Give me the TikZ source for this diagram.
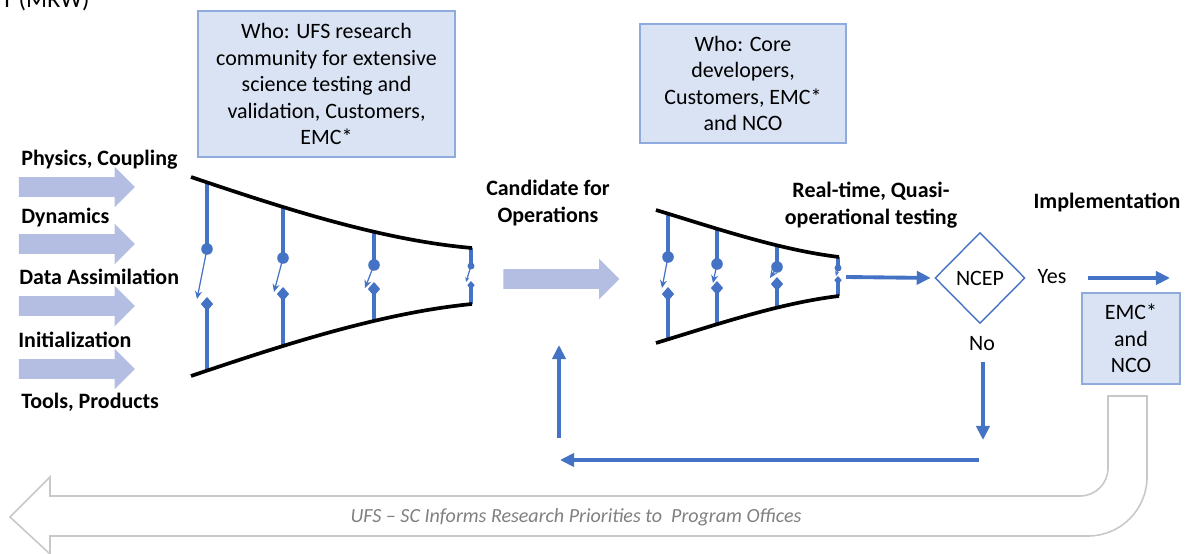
\documentclass[tikz,border=0pt]{standalone}
\usepackage{fontspec}
\setmainfont{Carlito}
\usepackage{tikz}
\usetikzlibrary{positioning}
\usetikzlibrary{arrows.meta}
\usetikzlibrary{shapes.geometric}
\usetikzlibrary{shapes.arrows}
\definecolor{ufsblue}{RGB}{68,114,196}
\definecolor{boxfill}{RGB}{218,227,243}
\definecolor{boxline}{RGB}{143,170,220}
\definecolor{fatfill}{RGB}{180,189,226}
\definecolor{loopgrey}{RGB}{200,200,200}
\definecolor{loopfont}{RGB}{128,128,128}
\newcommand{\switchbar}[8]{%
  \draw[switchline] (#1,#2) -- (#1,#3);
  \fill[ufsblue] (#1,#3) circle[radius=3.3pt*#8];
  \draw[ufsblue, line width=0.7pt, -{Stealth[length=4.5pt,width=4pt,scale=#8]}] (#1,#3) -- (#4,#5);
  \draw[switchline, -{Diamond[length=8pt,width=7pt,scale=#8]}] (#1,#7) -- (#1,#6);
}
\tikzset{
  lbl/.style={font=\fontsize{12.5}{15.1}\selectfont\bfseries, inner sep=0pt, align=center},
  whobox/.style={draw=boxline, fill=boxfill, line width=0.8pt, align=center, font=\fontsize{12.5}{15.1}\selectfont, inner sep=0pt},
  fatarrow/.style={single arrow, fill=fatfill, draw=none, inner xsep=0pt, inner ysep=0.19cm, single arrow head extend=0.21cm, minimum height=2.32cm},
  flow/.style={ufsblue, line width=2.2pt, -{Triangle[length=8pt,width=7.5pt]}},
  switchline/.style={ufsblue, line width=2.1pt},
  funnel/.style={black, line width=2.1pt},
}

\begin{document}
\begin{tikzpicture}[x=0.02cm, y=-0.02cm]
    \useasboundingbox (0,0) rectangle (1197,554);

    \node[anchor=base east, font=\fontsize{14}{16}\selectfont, inner sep=0pt] (mrw) at (90,8) {T (MRW)};

    % who boxes
    \node[whobox, minimum width=5.14cm, minimum height=2.92cm] (who_res) at (326.5,84) {Who: UFS research\\community for extensive\\science testing and\\validation, Customers,\\EMC*};
    \node[whobox, minimum width=4.12cm, minimum height=2.38cm] (who_ops) at (743,83.5) {Who: Core\\developers,\\Customers, EMC*\\and NCO};

    % inputs
    \node[lbl, anchor=west] (phys) at (21,160) {Physics, Coupling};
    \node[lbl, anchor=west] (dyn) at (21,218) {Dynamics};
    \node[lbl, anchor=west] (da) at (19,277) {Data Assimilation};
    \node[lbl, anchor=west] (init) at (18,340) {Initialization};
    \node[lbl, anchor=west] (tools) at (21,402) {Tools, Products};
    \node[fatarrow] (in_a) at (72,187) {};
    \node[fatarrow] (in_b) at (72,244) {};
    \node[fatarrow] (in_c) at (72,306) {};
    \node[fatarrow] (in_d) at (72,369) {};

    % research funnel
    \switchbar{207}{182}{249}{197}{299}{297}{372}{1}
    \switchbar{283}{207}{258}{274}{292}{287}{345}{1}
    \switchbar{374}{231}{265}{365}{288}{282}{322}{1}
    \switchbar{471}{248}{266}{466}{282}{281}{304}{0.6}
    \draw[funnel] (191,177) .. controls (280,207) and (380,240) .. (472,248);
    \draw[funnel] (191,376) .. controls (280,346) and (380,313) .. (472,304);

    \node[lbl] (cand) at (548,203) {Candidate for\\Operations};
    \node[fatarrow] (to_ops) at (556.5,279) {};

    % operational funnel
    \switchbar{668}{213}{257}{662}{288}{287}{339}{1}
    \switchbar{717}{229}{264}{713}{283}{281}{324}{1}
    \switchbar{777}{245}{267}{770}{278}{277}{307}{1}
    \switchbar{838}{257}{268}{836}{276}{276}{296}{0.6}
    \draw[funnel] (656,210) .. controls (715,228) and (780,250) .. (839,257);
    \draw[funnel] (656,343) .. controls (715,325) and (780,303) .. (839,296);

    \node[lbl] (rt) at (871,205) {Real-time, Quasi-\\operational testing};
    \node[lbl] (impl) at (1107,203) {Implementation};

    % decision
    \node[diamond, draw=ufsblue, line width=0.8pt, minimum width=1.8cm, minimum height=1.82cm, inner sep=0pt, font=\fontsize{12.5}{15.1}\selectfont] (ncep) at (980,278) {NCEP};
    \node[whobox, minimum width=1.96cm, minimum height=1.82cm] (emc) at (1131,338.5) {EMC*\\and\\NCO};
    \node[font=\fontsize{12.5}{15.1}\selectfont, inner sep=0pt] (yes) at (1052,277) {Yes};
    \node[font=\fontsize{12.5}{15.1}\selectfont, inner sep=0pt] (no) at (982,344) {No};

    \coordinate (f2out) at (846,277);
    \coordinate (yes_a) at (1088,278);
    \coordinate (yes_b) at (1170,278);
    \coordinate (no_a) at (983,362);
    \coordinate (no_b) at (983,440);
    \coordinate (back_r) at (979,460);
    \coordinate (back_l) at (560,460);
    \coordinate (up_b) at (559,438);
    \coordinate (up_t) at (559,345);

    \draw[flow, shorten >=2pt] (f2out) -- (ncep.west);
    \draw[flow] (yes_a) -- (yes_b);
    \draw[flow] (no_a) -- (no_b);
    \draw[flow] (back_r) -- (back_l);
    \draw[flow] (up_b) -- (up_t);

    % feedback to program offices
    \draw[loopgrey, line width=0.9pt, fill=white] (1108,396) -- (1147,396) -- (1147,477)
        .. controls (1147,509.6) and (1120.6,536) .. (1088,536) -- (50,536) -- (50,554)
        -- (10,517) -- (50,477) -- (50,496) -- (1080,496)
        .. controls (1095.5,496) and (1108,483.5) .. (1108,468) -- cycle;
    \node[font=\fontsize{11.4}{13}\selectfont\itshape, text=loopfont, inner sep=0pt] (prio) at (576,517) {UFS – SC Informs Research Priorities to \ Program Offices};
\end{tikzpicture}
\end{document}
